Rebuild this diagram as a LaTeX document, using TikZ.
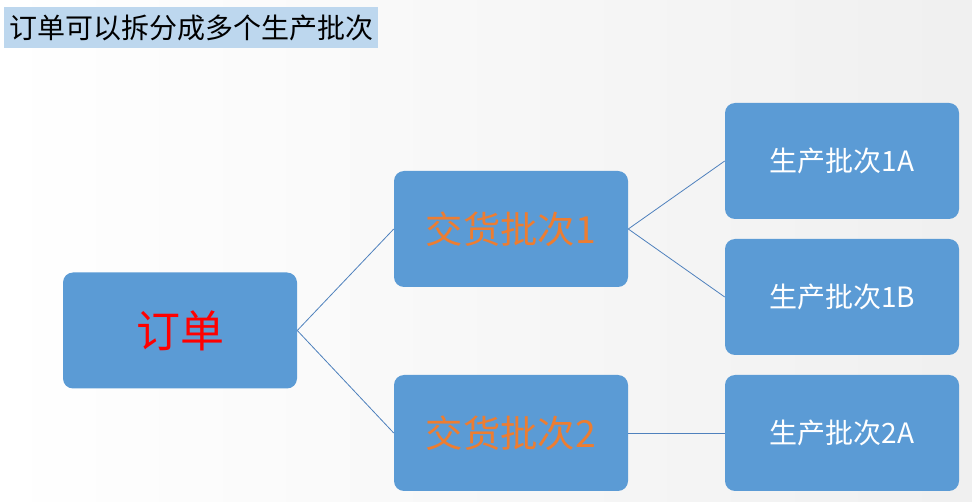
\documentclass[tikz,border=0pt]{standalone}
\usepackage{fontspec}
\setmainfont{Noto Sans CJK SC}
\usetikzlibrary{positioning}
\definecolor{boxblue}{HTML}{5B9BD5}
\definecolor{linkblue}{HTML}{4F81BD}
\definecolor{titlebg}{HTML}{BDD7EE}
\definecolor{lotorange}{HTML}{ED7D31}
\tikzset{
  plan/.style={draw=none, fill=boxblue, rounded corners=7.5pt,
    minimum width=175.5pt, minimum height=87pt, inner sep=0pt},
  link/.style={draw=linkblue, line width=0.6pt}
}
\begin{document}
\begin{tikzpicture}[x=0.75pt, y=-0.75pt]

  % --- 背景 ---
  \shade[left color=white, right color=black!6] (0,0) rectangle (972,502);
  \useasboundingbox (0,0) rectangle (972,502);

  % --- 标题 ---
  \node[fill=titlebg, anchor=north west, minimum width=280.5pt, minimum height=30.75pt,
    inner sep=0pt, font=\fontsize{21pt}{24pt}\selectfont] (title) at (4,7) {订单可以拆分成多个生产批次};

  % --- 订单 ---
  \node[plan, font=\fontsize{33pt}{36pt}\selectfont, text=red] (order) at (180,330.5) {订单};

  % --- 交货批次 ---
  \node[plan, font=\fontsize{28pt}{30pt}\selectfont, text=lotorange] (lot1) at (511,229) {交货批次1};
  \node[plan, font=\fontsize{28pt}{30pt}\selectfont, text=lotorange] (lot2) at (511,433) {交货批次2};

  % --- 生产批次 ---
  \node[plan, font=\fontsize{21pt}{24pt}\selectfont, text=white] (prod1a) at (842,161) {生产批次1A};
  \node[plan, font=\fontsize{21pt}{24pt}\selectfont, text=white] (prod1b) at (842,297) {生产批次1B};
  \node[plan, font=\fontsize{21pt}{24pt}\selectfont, text=white] (prod2a) at (842,433) {生产批次2A};

  % --- 连线 ---
  \draw[link] (order.east) -- (lot1.west);
  \draw[link] (order.east) -- (lot2.west);
  \draw[link] (lot1.east) -- (prod1a.west);
  \draw[link] (lot1.east) -- (prod1b.west);
  \draw[link] (lot2.east) -- (prod2a.west);

\end{tikzpicture}
\end{document}
